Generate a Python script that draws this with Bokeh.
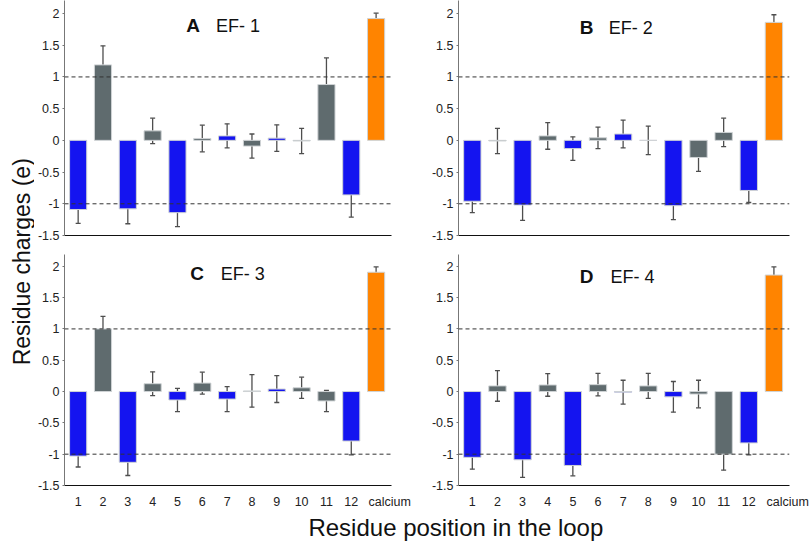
import numpy as np
from bokeh.plotting import figure
from bokeh.models import ColumnDataSource, Whisker, TeeHead, Span, Label, FixedTicker, Range1d
from bokeh.layouts import row, column
from bokeh.embed import file_html
from bokeh.resources import INLINE

FONT = "Liberation Sans"

categories = ["1", "2", "3", "4", "5", "6", "7", "8", "9", "10", "11", "12", "calcium"]
kinds = ["b", "g", "b", "g", "b", "g", "b", "g", "b", "g", "g", "b", "o"]
kind_colors = {"b": "#1414f0", "g": "#5f6b6e", "o": "#ff8400"}

panel_letters = ["A", "B", "C", "D"]
panel_names = ["EF- 1", "EF- 2", "EF- 3", "EF- 4"]

ef1_charge = [-1.09, 1.19, -1.08, 0.15, -1.14, 0.03, 0.07, -0.09, 0.035, -0.01, 0.88, -0.86, 1.92]
ef1_err = [0.22, 0.30, 0.235, 0.20, 0.22, 0.21, 0.19, 0.19, 0.21, 0.20, 0.42, 0.35, 0.085]

ef2_charge = [-0.96, -0.01, -1.02, 0.07, -0.13, 0.04, 0.10, 0.0, -1.03, -0.27, 0.125, -0.79, 1.86]
ef2_err = [0.18, 0.20, 0.24, 0.21, 0.185, 0.17, 0.22, 0.225, 0.22, 0.22, 0.225, 0.19, 0.12]

ef3_charge = [-1.03, 1.0, -1.13, 0.125, -0.135, 0.135, -0.12, 0.01, 0.04, 0.06, -0.15, -0.79, 1.905]
ef3_err = [0.175, 0.20, 0.21, 0.19, 0.185, 0.175, 0.20, 0.26, 0.215, 0.17, 0.17, 0.22, 0.085]

ef4_charge = [-1.05, 0.09, -1.09, 0.105, -1.18, 0.11, -0.01, 0.09, -0.085, -0.04, -1.0, -0.82, 1.86]
ef4_err = [0.19, 0.245, 0.28, 0.18, 0.165, 0.18, 0.19, 0.20, 0.245, 0.22, 0.255, 0.19, 0.13]

charges = [ef1_charge, ef2_charge, ef3_charge, ef4_charge]
errors = [ef1_err, ef2_err, ef3_err, ef4_err]

y_ticks = [-1.5, -1, -0.5, 0, 0.5, 1, 1.5, 2]
y_tick_labels = ["-1.5", "-1", "-0.5", "0", "0.5", "1", "1.5", "2"]
ref_levels = [1, -1]

x_label = "Residue position in the loop"
y_label = "Residue charges (e)"

# layout (position / size) settings
title_pos = [(5.35, 6.55, 1.65), (5.27, 6.43, 1.62), (5.51, 6.74, 1.72), (5.27, 6.50, 1.67)]
calcium_tick_pos = 13.55


def make_panel(i):
    top_row = i < 2
    left_col = i % 2 == 0
    width = 381 if left_col else 395
    height = 250 if top_row else 261
    y_end = 2.205 if top_row else 2.188
    p = figure(width=width, height=height, output_backend="svg", toolbar_location=None,
               x_range=Range1d(0.45, 13.62), y_range=Range1d(-1.5, y_end))
    p.min_border_left = 26 if left_col else 43
    p.min_border_right = 24 if left_col else 21
    p.min_border_top = 0 if top_row else 4
    p.min_border_bottom = 15 if top_row else 22
    p.outline_line_color = None
    p.xgrid.visible = False
    p.ygrid.visible = False
    p.background_fill_color = "white"
    p.border_fill_color = "white"

    xs = list(range(1, len(categories) + 1))
    vals = charges[i]
    errs = errors[i]
    src = ColumnDataSource(dict(
        x=xs, top=vals,
        color=[kind_colors[k] for k in kinds],
        upper=[v + e for v, e in zip(vals, errs)],
        lower=[v - e for v, e in zip(vals, errs)],
    ))
    for lvl in ref_levels:
        p.add_layout(Span(location=lvl, dimension="width", line_color="#333333",
                          line_width=1, line_dash="4 3"))
    p.vbar(x="x", top="top", bottom=0, width=0.69, fill_color="color",
           line_color="#cfd3d5", line_width=1, source=src)
    wcol = "#4e4e4e"
    w = Whisker(base="x", upper="upper", lower="lower", source=src,
                line_color=wcol, line_width=1.3,
                upper_head=TeeHead(size=5, line_color=wcol, line_width=1.3),
                lower_head=TeeHead(size=5, line_color=wcol, line_width=1.3))
    p.add_layout(w)

    # y axis
    ya = p.yaxis[0]
    ya.ticker = FixedTicker(ticks=y_ticks)
    ya.major_label_overrides = {t: l for t, l in zip(y_ticks, y_tick_labels)}
    ya.axis_line_color = "#777777"
    ya.major_tick_line_color = "#777777"
    ya.major_tick_out = 2
    ya.major_tick_in = 0
    ya.minor_tick_line_color = None
    ya.major_label_standoff = 3
    ya.major_label_text_font = FONT
    ya.major_label_text_font_size = "12.5px"
    ya.major_label_text_color = "#222222"

    # x axis
    xa = p.xaxis[0]
    xa.axis_line_color = "#111111"
    xa.major_tick_line_color = None
    xa.minor_tick_line_color = None
    xa.major_label_standoff = 3
    xa.major_label_text_font = FONT
    xa.major_label_text_color = "#222222"
    xa.major_label_text_font_size = "12.5px"
    if top_row:
        xa.ticker = FixedTicker(ticks=[])
        xa.major_label_standoff = 0
    else:
        tick_x = xs[:-1] + [calcium_tick_pos]
        xa.ticker = FixedTicker(ticks=tick_x)
        xa.major_label_overrides = {x: c for x, c in zip(tick_x, categories)}

    lx, nx, ty = title_pos[i]
    p.add_layout(Label(x=lx, y=ty, text=panel_letters[i], text_font=FONT,
                       text_font_style="bold", text_font_size="19px", text_color="#111111"))
    p.add_layout(Label(x=nx, y=ty, text=panel_names[i], text_font=FONT,
                       text_font_size="18px", text_color="#111111"))
    return p


panels = [make_panel(i) for i in range(4)]


def label_fig(width, height):
    f = figure(width=width, height=height, output_backend="svg", toolbar_location=None,
               x_range=Range1d(0, 1), y_range=Range1d(0, 1),
               x_axis_type=None, y_axis_type=None)
    f.min_border = 0
    f.outline_line_color = None
    f.xgrid.visible = False
    f.ygrid.visible = False
    return f


ylab = label_fig(34, 542)
ylab.add_layout(Label(x=0.632, y=0.518, text=y_label, angle=np.pi / 2, text_align="center",
                      text_baseline="alphabetic", text_font=FONT, text_font_size="23px",
                      text_color="#111111"))

xlab = label_fig(776, 31)
xlab.add_layout(Label(x=0.543, y=0.5, text=x_label, text_align="center",
                      text_baseline="alphabetic", text_font=FONT, text_font_size="24px",
                      text_color="#111111"))

layout = row(ylab, column(row(panels[0], panels[1]), row(panels[2], panels[3]), xlab))

open("out.html", "w").write(file_html(layout, INLINE))
